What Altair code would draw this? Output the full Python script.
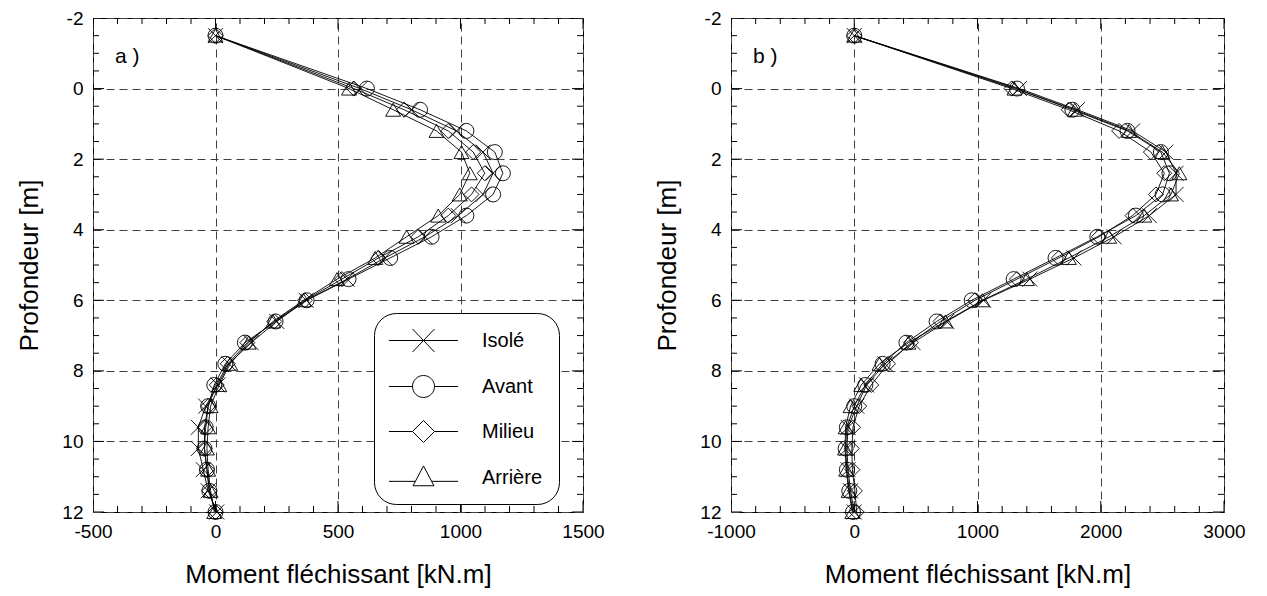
import altair as alt
import pandas as pd

depths = [-1.5, 0.0, 0.6, 1.2, 1.8, 2.4, 3.0, 3.6, 4.2, 4.8, 5.4, 6.0,
          6.6, 7.2, 7.8, 8.4, 9.0, 9.6, 10.2, 10.8, 11.4, 12.0]
series_names = ["Isolé", "Avant", "Milieu", "Arrière"]

# Panel a
a_isole = [0, 590, 800, 984, 1092, 1133, 1092, 991, 855, 691, 537, 370, 250, 145, 55, 10, -40, -70, -70, -50, -30, 5]
a_avant = [0, 618, 835, 1024, 1140, 1173, 1133, 1024, 882, 713, 543, 372, 245, 120, 40, -5, -30, -40, -45, -35, -25, 0]
a_milieu = [0, 565, 770, 950, 1052, 1099, 1045, 950, 828, 665, 516, 365, 240, 130, 50, 5, -30, -45, -45, -35, -25, 0]
a_arriere = [0, 545, 725, 902, 1004, 1038, 997, 909, 780, 652, 496, 360, 235, 135, 60, 15, -20, -30, -35, -30, -20, -5]

# Panel b
b_isole = [0, 1340, 1810, 2258, 2529, 2611, 2611, 2394, 2108, 1782, 1425, 1049, 750, 477, 250, 100, 20, -50, -60, -50, -30, 0]
b_avant = [0, 1320, 1770, 2217, 2488, 2557, 2502, 2285, 1972, 1633, 1293, 953, 668, 423, 230, 90, 0, -60, -70, -60, -40, -10]
b_milieu = [0, 1276, 1740, 2149, 2407, 2516, 2448, 2258, 1985, 1660, 1320, 980, 700, 460, 274, 138, 40, -10, -20, -15, 5, 20]
b_arriere = [0, 1300, 1790, 2230, 2500, 2638, 2570, 2353, 2068, 1741, 1400, 1040, 740, 440, 205, 57, -30, -70, -75, -65, -45, -15]

a_xticks = [-500, 0, 500, 1000, 1500]
b_xticks = [-1000, 0, 1000, 2000, 3000]
y_ticks = [-2, 0, 2, 4, 6, 8, 10, 12]

marker_shapes = ["M-1,-1L1,1M-1,1L1,-1", "circle", "diamond", "triangle-up"]
legend_shapes = [
    "M-3.14,0L3.14,0M-1,-1.05L1,1.05M-1,1.05L1,-1.05",
    "M-3.14,0L-1,0M1,0L3.14,0M-1,0A1,1,0,1,1,1,0A1,1,0,1,1,-1,0Z",
    "M-3.14,0L-1,0M1,0L3.14,0M-1,0L0,-1L1,0L0,1Z",
    "M-3.14,0.35L-0.74,0.35M0.74,0.35L3.14,0.35M0,-1.05L0.95,0.75L-0.95,0.75Z",
]

FONT = "Liberation Sans"


def make_df(vals):
    rows = []
    for name, v in zip(series_names, vals):
        for d, x in zip(depths, v):
            rows.append({"depth": d, "value": x, "series": name})
    return pd.DataFrame(rows)


def panel(vals, xdom, xmajor, xminor, label, W, H, with_legend):
    df = make_df(vals)
    xs = alt.Scale(domain=xdom, nice=False, zero=False)
    ys = alt.Scale(domain=[-2, 12], reverse=True, nice=False, zero=False)
    xaxis = alt.Axis(values=xmajor, title="Moment fléchissant [kN.m]",
                     labelExpr="datum.value + ''", labelPadding=10, titlePadding=20,
                     labelFlush=False)
    yaxis = alt.Axis(values=y_ticks, title="Profondeur [m]",
                     labelExpr="datum.value + ''", labelPadding=10, titlePadding=19,
                     labelFlush=False)
    base = alt.Chart(df)
    lines = base.mark_line(color="black", strokeWidth=0.9).encode(
        x=alt.X("value:Q", scale=xs, axis=xaxis),
        y=alt.Y("depth:Q", scale=ys, axis=yaxis),
        detail="series:N",
        order="depth:Q",
    )
    points = base.mark_point(filled=False, color="black", strokeWidth=0.9,
                             size=225, opacity=1).encode(
        x=alt.X("value:Q", scale=xs, axis=xaxis),
        y=alt.Y("depth:Q", scale=ys, axis=yaxis),
        shape=alt.Shape("series:N",
                        scale=alt.Scale(domain=series_names, range=marker_shapes),
                        legend=None),
    )
    # inward ticks
    xt_vals = list(range(xdom[0], xdom[1] + 1, xminor))
    xt_df = pd.DataFrame({"value": xt_vals,
                          "len": [22 if v in xmajor else 12 for v in xt_vals]})
    yt_vals = [-2 + 0.5 * i for i in range(29)]
    yt_df = pd.DataFrame({"depth": yt_vals,
                          "len": [22 if v in y_ticks else 12 for v in yt_vals]})
    tick_layers = []
    for ypos in [0, H]:
        tick_layers.append(
            alt.Chart(xt_df).mark_tick(orient="vertical", clip=True, thickness=1,
                                       color="black", opacity=1).encode(
                x=alt.X("value:Q", scale=xs, axis=xaxis),
                y=alt.value(ypos),
                size=alt.Size("len:Q", scale=None),
            ))
    for xpos in [0, W]:
        tick_layers.append(
            alt.Chart(yt_df).mark_tick(orient="horizontal", clip=True, thickness=1,
                                       color="black", opacity=1).encode(
                y=alt.Y("depth:Q", scale=ys, axis=yaxis),
                x=alt.value(xpos),
                size=alt.Size("len:Q", scale=None),
            ))
    text = alt.Chart(pd.DataFrame({"t": [label]})).mark_text(
        align="left", baseline="middle", font=FONT, fontSize=21, color="black"
    ).encode(text="t:N", x=alt.value(22), y=alt.value(39))

    layers = [lines, points] + tick_layers + [text]
    if with_legend:
        leg = base.transform_filter("datum.depth > 100").mark_point(
            filled=False, color="black", strokeWidth=1, opacity=1).encode(
            shape=alt.Shape("series:N",
                            scale=alt.Scale(domain=series_names, range=legend_shapes),
                            legend=alt.Legend(
                                title=None, orient="none", legendX=281, legendY=295,
                                strokeColor="black", fillColor="white",
                                cornerRadius=22, padding=16,
                                symbolSize=484, symbolStrokeWidth=1,
                                symbolStrokeColor="black",
                                symbolFillColor="transparent",
                                symbolOffset=22, labelOffset=47,
                                rowPadding=18, labelFont=FONT,
                                labelFontSize=20, labelColor="black",
                            )),
        )
        layers.append(leg)
    ch = alt.layer(*layers).properties(width=W, height=H)
    if with_legend:
        ch = ch.resolve_scale(shape="independent")
    return ch


pa = panel([a_isole, a_avant, a_milieu, a_arriere], [-500, 1500], a_xticks, 100,
           "a )", 490, 494, True)
pb = panel([b_isole, b_avant, b_milieu, b_arriere], [-1000, 3000], b_xticks, 200,
           "b )", 493, 494, False)

chart = alt.hconcat(pa, pb, spacing=148, bounds="flush").configure_view(
    stroke="black", strokeWidth=1
).configure_axis(
    labelFont=FONT, titleFont=FONT, labelFontSize=19, titleFontSize=26,
    labelColor="black", titleColor="black", titleFontWeight="normal",
    ticks=False, domain=False, grid=True, gridDash=[8, 5],
    gridColor="#404040", gridOpacity=1, gridWidth=1,
).properties(
    padding={"left": 8, "top": 0, "right": 5, "bottom": 5}
)

chart.save("out.html", embed_options={"renderer": "svg", "actions": False})
